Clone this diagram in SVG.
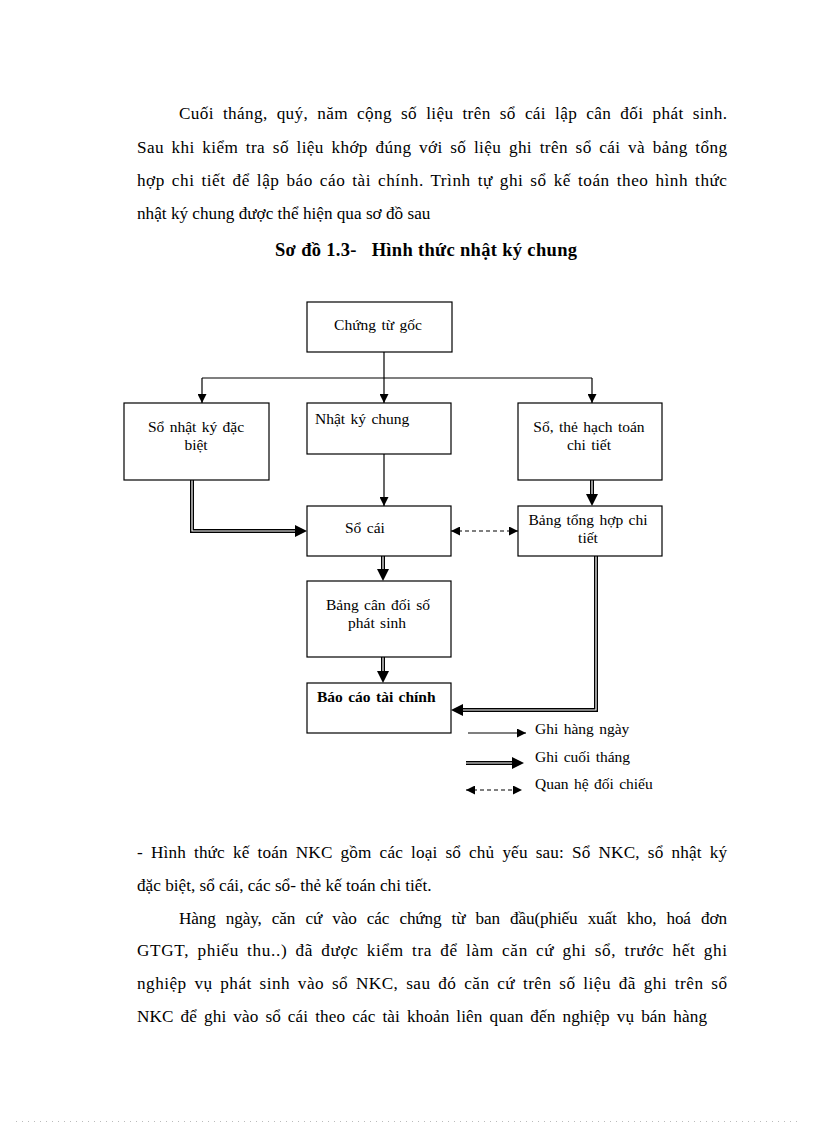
<svg xmlns="http://www.w3.org/2000/svg" width="816" height="1123" viewBox="0 0 816 1123">
<style>
  text { font-family: "Liberation Serif", "Times New Roman", serif; fill: #000; }
  .p { font-size: 17.2px; }
  .t { font-size: 18.5px; font-weight: bold; }
  .n { font-size: 15.5px; word-spacing: 1.5px; }
  .nb { font-size: 15.5px; font-weight: bold; word-spacing: 1.5px; }
  .box { fill: #fff; stroke: #000; stroke-width: 1.2; }
  .s { fill: none; stroke: #000; stroke-width: 1.2; }
  .dash { fill: none; stroke: #000; stroke-width: 1.2; stroke-dasharray: 4 3; }
  .dbo { fill: none; stroke: #000; stroke-width: 4; }
  .dbi { fill: none; stroke: #fff; stroke-width: 1.2; }
</style>
<defs>
  <marker id="ah" viewBox="0 0 10 10" refX="10" refY="5" markerWidth="9" markerHeight="9" markerUnits="userSpaceOnUse" orient="auto-start-reverse">
    <path d="M0,0 L10,5 L0,10 z" fill="#000"/>
  </marker>
  <marker id="ahd" viewBox="0 0 12 12" refX="0" refY="6" markerWidth="12" markerHeight="12" markerUnits="userSpaceOnUse" orient="auto">
    <path d="M0,0 L12,6 L0,12 z" fill="#000"/>
  </marker>
</defs>

<g id="text-top">
  <text class="p" style="word-spacing:4.5px" x="179" y="119" textLength="548" lengthAdjust="spacing">Cuối tháng, quý, năm cộng số liệu trên sổ cái lập cân đối phát sinh.</text>
  <text class="p" style="word-spacing:3px" x="137" y="153" textLength="590" lengthAdjust="spacing">Sau khi kiểm tra số liệu khớp đúng với số liệu ghi trên sổ cái và bảng tổng</text>
  <text class="p" style="word-spacing:2.2px" x="137" y="186" textLength="590" lengthAdjust="spacing">hợp chi tiết để lập báo cáo tài chính. Trình tự ghi sổ kế toán theo hình thức</text>
  <text class="p" x="137" y="219">nhật ký chung được thể hiện qua sơ đồ sau</text>
  <text class="t" x="275" y="256" textLength="302" lengthAdjust="spacing" xml:space="preserve">Sơ đồ 1.3-   Hình thức nhật ký chung</text>
</g>

<g id="connectors">
  <path class="s" d="M384,352 V403" marker-end="url(#ah)"/>
  <path class="s" d="M202,378 H592"/>
  <path class="s" d="M202,378 V403" marker-end="url(#ah)"/>
  <path class="s" d="M592,378 V403" marker-end="url(#ah)"/>
  <path class="s" d="M384,454 V506" marker-end="url(#ah)"/>
  <path class="dash" d="M451,531 H518" marker-start="url(#ah)" marker-end="url(#ah)"/>

  <path class="dbo" d="M192,480 V531 H295" marker-end="url(#ahd)"/>
  <path class="dbi" d="M192,480 V531 H295"/>
  <path class="dbo" d="M592,480 V494" marker-end="url(#ahd)"/>
  <path class="dbi" d="M592,480 V494"/>
  <path class="dbo" d="M383,556 V569" marker-end="url(#ahd)"/>
  <path class="dbi" d="M383,556 V569"/>
  <path class="dbo" d="M383,657 V671" marker-end="url(#ahd)"/>
  <path class="dbi" d="M383,657 V671"/>
  <path class="dbo" d="M596,556 V710 H463" marker-end="url(#ahd)"/>
  <path class="dbi" d="M596,556 V710 H463"/>
</g>

<g id="n-chungtugoc">
  <rect class="box" x="307" y="302" width="145" height="50"/>
  <text class="n" x="378" y="330" text-anchor="middle">Chứng từ gốc</text>
</g>
<g id="n-sonhatkydacbiet">
  <rect class="box" x="124" y="403" width="145" height="77"/>
  <text class="n" x="196" y="432" text-anchor="middle">Sổ nhật ký đặc</text>
  <text class="n" x="196" y="450" text-anchor="middle">biệt</text>
</g>
<g id="n-nhatkychung">
  <rect class="box" x="307" y="403" width="144" height="51"/>
  <text class="n" x="315" y="424">Nhật ký chung</text>
</g>
<g id="n-sothe">
  <rect class="box" x="518" y="403" width="144" height="77"/>
  <text class="n" x="589" y="432" text-anchor="middle">Sổ, thẻ hạch toán</text>
  <text class="n" x="589" y="450" text-anchor="middle">chi tiết</text>
</g>
<g id="n-socai">
  <rect class="box" x="307" y="506" width="144" height="50"/>
  <text class="n" x="345" y="533">Sổ cái</text>
</g>
<g id="n-bangtonghop">
  <rect class="box" x="518" y="506" width="144" height="50"/>
  <text class="n" x="588" y="525" text-anchor="middle">Bảng tổng hợp chi</text>
  <text class="n" x="588" y="543" text-anchor="middle">tiết</text>
</g>
<g id="n-bangcandoi">
  <rect class="box" x="307" y="581" width="144" height="76"/>
  <text class="n" x="378" y="610" text-anchor="middle">Bảng cân đối số</text>
  <text class="n" x="377" y="628" text-anchor="middle">phát sinh</text>
</g>
<g id="n-baocao">
  <rect class="box" x="307" y="683" width="144" height="50"/>
  <text class="nb" x="317" y="702">Báo cáo tài chính</text>
</g>

<g id="legend">
  <path class="s" d="M468,733 H526" marker-end="url(#ah)"/>
  <path class="dbo" d="M466,763 H512" marker-end="url(#ahd)"/>
  <path class="dbi" d="M466,763 H512"/>
  <path class="dash" d="M466,790 H522" marker-start="url(#ah)" marker-end="url(#ah)"/>
  <text class="n" x="535" y="734">Ghi hàng ngày</text>
  <text class="n" x="535" y="762">Ghi cuối tháng</text>
  <text class="n" x="535" y="789">Quan hệ đối chiếu</text>
</g>

<g id="text-bottom">
  <text class="p" style="word-spacing:3.6px" x="137" y="858" textLength="590" lengthAdjust="spacing">- Hình thức kế toán NKC gồm các loại sổ chủ yếu sau: Sổ NKC, sổ nhật ký</text>
  <text class="p" x="137" y="891">đặc biệt, sổ cái, các sổ- thẻ kế toán chi tiết.</text>
  <text class="p" style="word-spacing:6px" x="179" y="924" textLength="548" lengthAdjust="spacing">Hàng ngày, căn cứ vào các chứng từ ban đầu(phiếu xuất kho, hoá đơn</text>
  <text class="p" style="word-spacing:3.2px" x="137" y="956" textLength="590" lengthAdjust="spacing">GTGT, phiếu thu..) đã được kiểm  tra để làm căn cứ ghi sổ, trước hết ghi</text>
  <text class="p" style="word-spacing:3px" x="137" y="989" textLength="590" lengthAdjust="spacing">nghiệp vụ phát sinh vào sổ NKC, sau đó căn cứ trên số liệu đã ghi trên sổ</text>
  <text class="p" style="word-spacing:2.6px" x="137" y="1022" textLength="570" lengthAdjust="spacing">NKC để ghi vào sổ cái theo các tài khoản liên quan đến nghiệp vụ bán hàng</text>
</g>

<path d="M16,1121.5 H800" stroke="#bbb" stroke-width="1" stroke-dasharray="1 5" fill="none"/>
</svg>
